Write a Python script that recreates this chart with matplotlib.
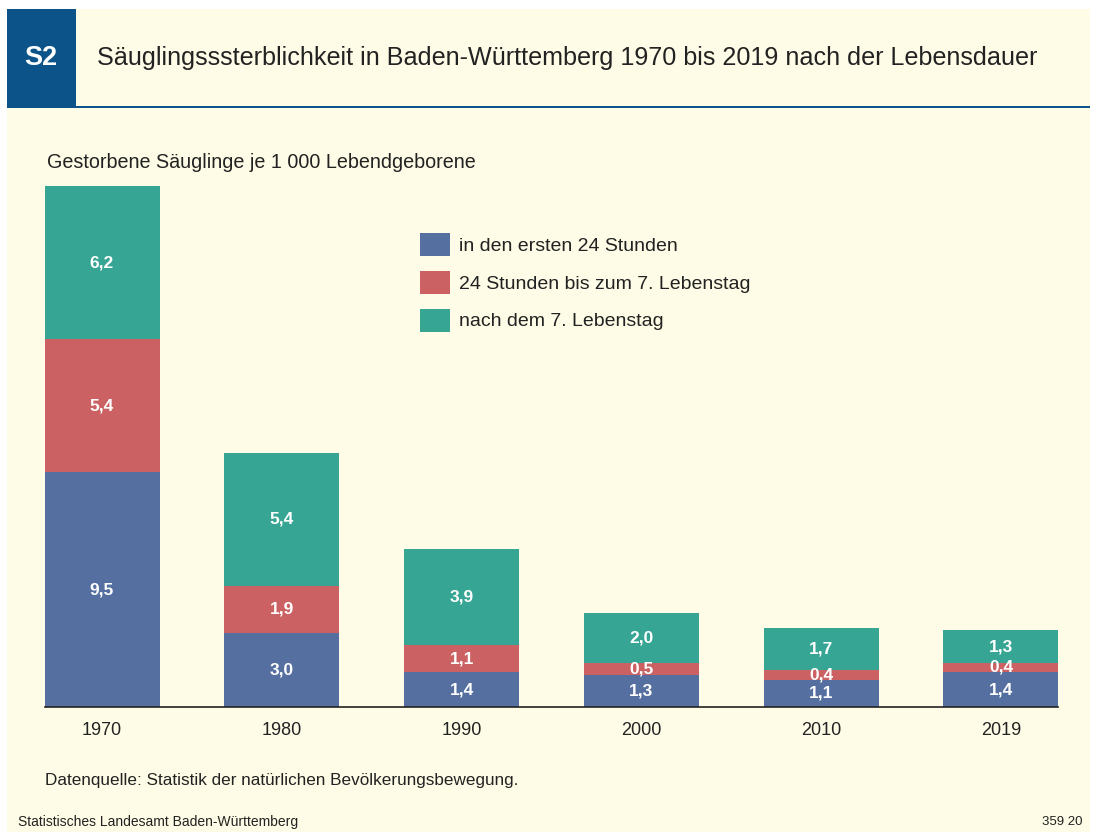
import matplotlib
matplotlib.use("Agg")
import matplotlib.pyplot as plt
from matplotlib.patches import Rectangle
from matplotlib import font_manager as fm

years = ["1970", "1980", "1990", "2000", "2010", "2019"]
first_24h = [9.5, 3.0, 1.4, 1.3, 1.1, 1.4]
h24_to_day7 = [5.4, 1.9, 1.1, 0.5, 0.4, 0.4]
after_day7 = [6.2, 5.4, 3.9, 2.0, 1.7, 1.3]
series_names = ["in den ersten 24 Stunden", "24 Stunden bis zum 7. Lebenstag", "nach dem 7. Lebenstag"]
colors = ["#5570A0", "#CC6163", "#36A594"]

names = {f.name for f in fm.fontManager.ttflist}
FONT = "Liberation Sans"
NARROW = "Liberation Sans Narrow" if "Liberation Sans Narrow" in names else "Liberation Sans"

W, H = 1095, 835
fig = plt.figure(figsize=(W / 100, H / 100), dpi=100, facecolor="white")

def fx(x): return x / W
def fy(y): return 1 - y / H

bg = "#FEFCE6"
fig.patches.append(Rectangle((fx(7), fy(832)), fx(1090) - fx(7), fy(9) - fy(832),
                             transform=fig.transFigure, facecolor=bg, edgecolor="none", zorder=-5))
fig.patches.append(Rectangle((fx(7), fy(106)), fx(76) - fx(7), fy(9) - fy(106),
                             transform=fig.transFigure, facecolor="#0B5389", edgecolor="none", zorder=-4))
fig.patches.append(Rectangle((fx(7), fy(108)), fx(1090) - fx(7), fy(105.5) - fy(108),
                             transform=fig.transFigure, facecolor="#0B5389", edgecolor="none", zorder=-4))
fig.text(fx(41), fy(58), "S2", color="white", fontsize=19.5, fontweight="bold",
         family=FONT, ha="center", va="center")
fig.text(fx(97), fy(58), "Säuglingsssterblichkeit in Baden-Württemberg 1970 bis 2019 nach der Lebensdauer",
         color="#222222", fontsize=18.1, family=FONT, ha="left", va="center")

fig.text(fx(47), fy(162), "Gestorbene Säuglinge je 1 000 Lebendgeborene", color="#222222",
         fontsize=14.2, family=FONT, ha="left", va="center")

ax = fig.add_axes([fx(45), fy(707), fx(1058) - fx(45), fy(186) - fy(707)])
ax.set_zorder(5)
ax.set_facecolor("none")
x = list(range(len(years)))
width = 0.64
bottoms = [0.0] * len(years)
for vals, col, name in zip([first_24h, h24_to_day7, after_day7], colors, series_names):
    ax.bar(x, vals, width=width, bottom=bottoms, color=col, label=name, zorder=2)
    for xi, v, b in zip(x, vals, bottoms):
        ax.text(xi, b + v / 2, f"{v:.1f}".replace(".", ","), color="white", fontsize=12.5,
                fontweight="bold", family=FONT, ha="center", va="center", zorder=3)
    bottoms = [b + v for b, v in zip(bottoms, vals)]

ax.set_xlim(-0.317, 5.317)
ax.set_ylim(0, 21.1)
ax.set_xticks(x)
ax.set_xticklabels(years, fontsize=13, family=FONT, color="#222222")
ax.tick_params(axis="x", length=0, pad=11)
ax.set_yticks([])
for s in ["top", "right", "left"]:
    ax.spines[s].set_visible(False)
ax.spines["bottom"].set_color("#222222")
ax.spines["bottom"].set_linewidth(1.2)
ax.spines["bottom"].set_zorder(4)

leg = ax.legend(loc="upper left", bbox_to_anchor=(fx(412.5), fy(225)), bbox_transform=fig.transFigure,
                frameon=False, prop={"family": FONT, "size": 14.0}, handlelength=1.55, handleheight=1.45,
                handletextpad=0.45, labelspacing=0.76, borderaxespad=0)
for t in leg.get_texts():
    t.set_color("#222222")

fig.text(fx(45), fy(781), "Datenquelle: Statistik der natürlichen Bevölkerungsbewegung.", color="#222222",
         fontsize=12.3, family=NARROW, ha="left", va="center")
fig.text(fx(18), fy(822), "Statistisches Landesamt Baden-Württemberg", color="#222222",
         fontsize=10, family=NARROW, ha="left", va="center")
fig.text(fx(1083), fy(822), "359 20", color="#222222",
         fontsize=9.5, family=NARROW, ha="right", va="center")

fig.savefig("out.png", dpi=100, facecolor="white")
